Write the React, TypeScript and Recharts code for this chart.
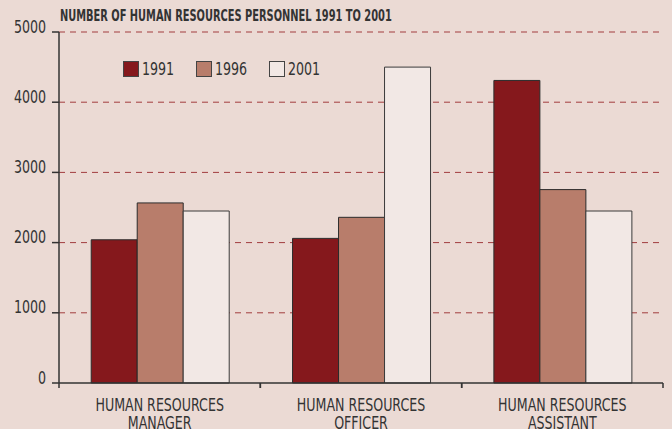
import { BarChart, Bar, XAxis, YAxis, CartesianGrid } from 'recharts';

const categories = ['HUMAN RESOURCES|MANAGER', 'HUMAN RESOURCES|OFFICER', 'HUMAN RESOURCES|ASSISTANT'];
const years = ['1991', '1996', '2001'];
const values1991 = [2040, 2060, 4310];
const values1996 = [2565, 2360, 2755];
const values2001 = [2450, 4500, 2450];
const yTicks = [0, 1000, 2000, 3000, 4000, 5000];

const colors = ['#85181c', '#b87d6b', '#f2e8e5'];
const FONT = '"DejaVu Sans Condensed", "Liberation Sans Narrow", sans-serif';
const SQUEEZE = 0.78;

const data = categories.map((c, i) => ({
    name: c,
    y1991: values1991[i],
    y1996: values1996[i],
    y2001: values2001[i],
}));

// condensed text: the reference uses a narrow face, so squeeze DejaVu horizontally
const NarrowText = ({ x, y, anchor, children }: any) => (
    <text
        transform={`translate(${x},${y}) scale(${SQUEEZE},1)`}
        textAnchor={anchor}
        fontSize={18}
        fontFamily={FONT}
        fill="#333"
    >
        {children}
    </text>
);

const YTick = (props: any) => {
    const { x, y, payload } = props;
    return (
        <NarrowText x={x} y={y + 0.5} anchor="end">
            {payload.value}
        </NarrowText>
    );
};

const XTick = (props: any) => {
    const { x, y, payload } = props;
    const half = payload.offset || 100.7;
    const lines = String(payload.value).split('|');
    return (
        <g>
            <line x1={x - half} x2={x - half} y1={y} y2={y + 5} stroke="#333" strokeWidth={1.5} />
            <line x1={x + half} x2={x + half} y1={y} y2={y + 5} stroke="#333" strokeWidth={1.5} />
            {lines.map((t, i) => (
                <NarrowText key={i} x={x} y={y + 28 + i * 17.5} anchor="middle">
                    {t}
                </NarrowText>
            ))}
        </g>
    );
};

const LegendBox = () => (
    <div
        style={{
            position: 'absolute',
            left: 123,
            top: 61,
            display: 'flex',
            fontFamily: FONT,
            fontSize: 18,
            lineHeight: '16px',
            color: '#333',
        }}
    >
        {years.map((yr, i) => (
            <div key={yr} style={{ display: 'flex', alignItems: 'center', width: 73 }}>
                <div
                    style={{
                        width: 14,
                        height: 14,
                        background: colors[i],
                        border: '1px solid #444',
                        marginRight: 3,
                        flexShrink: 0,
                    }}
                />
                <span style={{ display: 'inline-block', transform: `scaleX(${SQUEEZE})`, transformOrigin: 'left center' }}>
                    {yr}
                </span>
            </div>
        ))}
    </div>
);

export default function App() {
    return (
        <div style={{ position: 'absolute', left: 0, top: 0, width: 672, height: 429, background: '#ebdad4', overflow: 'hidden' }}>
            <BarChart
                width={672}
                height={429}
                data={data}
                margin={{ top: 32, right: 9, bottom: 0, left: 0 }}
                barCategoryGap="16%"
                barGap={0}
            >
                <CartesianGrid
                    vertical={false}
                    stroke="#a23c3e"
                    strokeDasharray="6 5"
                    horizontalValues={[1000, 2000, 3000, 4000, 5000]}
                />
                <XAxis
                    dataKey="name"
                    height={46}
                    tickSize={0}
                    tickMargin={0}
                    tickLine={false}
                    axisLine={{ stroke: '#333', strokeWidth: 1.5 }}
                    tick={<XTick />}
                    interval={0}
                />
                <YAxis
                    width={59}
                    domain={[0, 5000]}
                    ticks={yTicks}
                    tickSize={7}
                    tickMargin={6}
                    tickLine={{ stroke: '#333', strokeWidth: 1.5 }}
                    axisLine={{ stroke: '#333', strokeWidth: 1.5 }}
                    tick={<YTick />}
                    interval={0}
                />
                <Bar dataKey="y1991" name="1991" fill={colors[0]} stroke="#2b2b2b" strokeWidth={1} isAnimationActive={false} />
                <Bar dataKey="y1996" name="1996" fill={colors[1]} stroke="#2b2b2b" strokeWidth={1} isAnimationActive={false} />
                <Bar dataKey="y2001" name="2001" fill={colors[2]} stroke="#3a3a3a" strokeWidth={1} isAnimationActive={false} />
            </BarChart>
            <div
                style={{
                    position: 'absolute',
                    left: 60,
                    top: 7,
                    fontFamily: FONT,
                    fontWeight: 'bold',
                    fontSize: 15,
                    color: '#333',
                    whiteSpace: 'nowrap',
                    transform: 'scaleX(0.73)',
                    transformOrigin: 'left top',
                }}
            >
                NUMBER OF HUMAN RESOURCES PERSONNEL 1991 TO 2001
            </div>
            <LegendBox />
        </div>
    );
}
